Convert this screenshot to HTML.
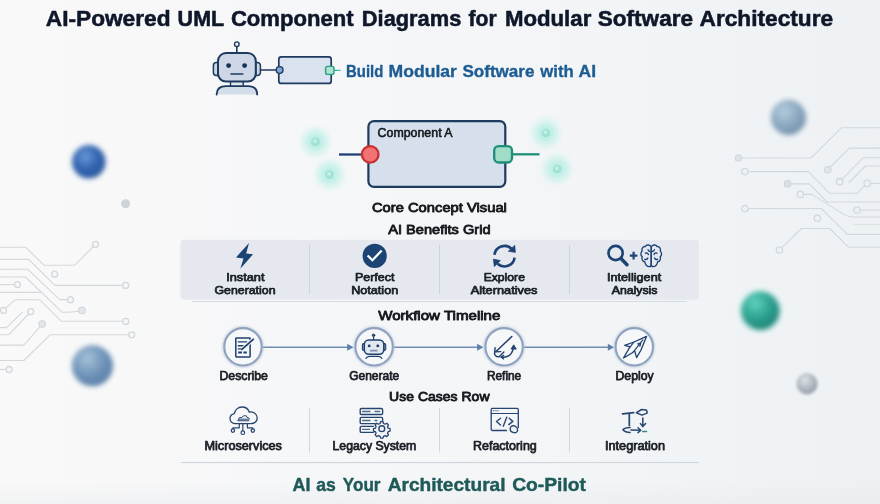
<!DOCTYPE html>
<html><head><meta charset="utf-8"><title>AI-Powered UML Component Diagrams</title>
<style>
html,body{margin:0;padding:0;}
body{width:880px;height:504px;overflow:hidden;background:#f3f5f7;font-family:"Liberation Sans",sans-serif;}
svg{display:block;position:absolute;left:0;top:0;will-change:transform;}
text{font-family:"Liberation Sans",sans-serif;font-weight:bold;}
.sb{font-weight:normal;stroke-linejoin:round;}
.h{font-size:13.300px;fill:#15181d;stroke:#15181d;stroke-width:0.850px;}
.l{font-size:11.500px;fill:#1b1f26;stroke:#1b1f26;stroke-width:0.75px;}
.u{font-size:12px;fill:#1b1f26;stroke:#1b1f26;stroke-width:0.75px;}
</style></head><body>
<svg width="880" height="504" viewBox="0 0 880 504">
<defs>
<linearGradient id="bg" x1="0" y1="0" x2="1" y2="0"><stop offset="0" stop-color="#f9f9f9"/><stop offset="0.45" stop-color="#f5f6f8"/><stop offset="0.78" stop-color="#f1f4f6"/><stop offset="1" stop-color="#edf1f4"/></linearGradient>
<linearGradient id="vg" x1="0" y1="0" x2="0" y2="1"><stop offset="0" stop-color="#dfe3e6" stop-opacity="0"/><stop offset="1" stop-color="#dfe3e6" stop-opacity="0.280"/></linearGradient>
<radialGradient id="sBlue" cx="0.4" cy="0.35" r="0.65"><stop offset="0" stop-color="#6a9ad9"/><stop offset="0.55" stop-color="#3366b0"/><stop offset="1" stop-color="#29579f"/></radialGradient>
<radialGradient id="sBlue2" cx="0.38" cy="0.33" r="0.7"><stop offset="0" stop-color="#a6c2d9"/><stop offset="0.55" stop-color="#7296ba"/><stop offset="1" stop-color="#577da6"/></radialGradient>
<radialGradient id="sGray" cx="0.38" cy="0.33" r="0.7"><stop offset="0" stop-color="#b5ccdc"/><stop offset="0.55" stop-color="#8eaac2"/><stop offset="1" stop-color="#7391ab"/></radialGradient>
<radialGradient id="sTeal" cx="0.36" cy="0.3" r="0.78"><stop offset="0" stop-color="#63d3bd"/><stop offset="0.45" stop-color="#31a896"/><stop offset="1" stop-color="#1d7d71"/></radialGradient>
<radialGradient id="sSm" cx="0.4" cy="0.32" r="0.72"><stop offset="0" stop-color="#dfe3e7"/><stop offset="0.5" stop-color="#b6bdc5"/><stop offset="1" stop-color="#939ea9"/></radialGradient>
<radialGradient id="glow"><stop offset="0" stop-color="#b6ede3" stop-opacity="1"/><stop offset="0.35" stop-color="#bdefe6" stop-opacity="0.9"/><stop offset="0.65" stop-color="#c7f1ea" stop-opacity="0.5"/><stop offset="0.85" stop-color="#d1f4ee" stop-opacity="0.18"/><stop offset="1" stop-color="#d8f5f0" stop-opacity="0"/></radialGradient>
<radialGradient id="gdot" cx="0.45" cy="0.42"><stop offset="0" stop-color="#d6f6ef"/><stop offset="0.5" stop-color="#abe7da"/><stop offset="0.9" stop-color="#98dfd0"/><stop offset="1" stop-color="#a1e2d4"/></radialGradient>
<filter id="b2" x="-30%" y="-30%" width="160%" height="160%"><feGaussianBlur stdDeviation="1.800"/></filter>
<filter id="b3" x="-30%" y="-30%" width="160%" height="160%"><feGaussianBlur stdDeviation="2.400"/></filter>
<filter id="b0" x="-5%" y="-5%" width="110%" height="110%"><feGaussianBlur stdDeviation="0.35"/></filter>
<filter id="b0c" x="-10%" y="-10%" width="120%" height="120%"><feGaussianBlur stdDeviation="0.400"/></filter>
<filter id="b05" x="-30%" y="-30%" width="160%" height="160%"><feGaussianBlur stdDeviation="0.600"/></filter>
<filter id="b1" x="-30%" y="-30%" width="160%" height="160%"><feGaussianBlur stdDeviation="0.8"/></filter>
</defs>
<rect width="880" height="504" fill="url(#bg)"/>
<rect x="0" y="480" width="880" height="24" fill="url(#vg)"/>

<!-- circuit traces -->
<g id="traces" fill="none" stroke="#d3d8dd" stroke-width="1.100" stroke-linejoin="round" filter="url(#b0)">
<path d="M0 247.200H25.500L44.200 265.300H74.500L93.300 246.500"/>
<path d="M0 259.400H28.600L54.900 285.400H122.500"/>
<path d="M0 269.300H27.800L59.700 299.600H67.400"/>
<path d="M0 277H25.500L62 312.200Q70 312.400 78.800 311.200"/>
<path d="M0 284.600H14.400"/>
<path d="M0 292.400H41"/>
<path d="M5.700 308.200L15.100 299.800H39.800L61.200 321.200H122.500"/>
<path d="M0 327.600H6.400L23 311.700"/>
<path d="M0 334.800H8.700L28.600 314"/>
<path d="M0 345.100H23.900L40.200 326.500"/>
<path d="M0 360.500H23.900L50.100 334.800H128.500"/>
<path d="M0 369.500H6"/>
<path d="M741.700 158H811L841.600 127.700H880"/>
<path d="M748 171.600H808.400L829.700 193.300H857L865 185.600M870.400 183.400H880"/>
<path d="M790.800 183.900H809.300L827 202H880"/>
<path d="M803.600 194.400H811.800L839 211.400Q846 216.500 852 217H880"/>
<path d="M748.200 208.500H821.200L847.600 234.400H880"/>
<path d="M860.200 210H880"/>
<path d="M829.900 167.500L849.300 148.100H880"/>
<path d="M841.800 179.400L863 157.800H880"/>
<path d="M848.500 183L865.500 166H880"/>
<path d="M781.600 247.800L801.600 228.500H829.700L848.500 247.200H880"/>
<path d="M853.600 224.500H880" stroke-opacity="0.600"/>
<g fill="#f6f7f8" stroke-width="1.300">
<circle cx="95.500" cy="244.300" r="3"/><circle cx="125.700" cy="285.400" r="3"/><circle cx="54.600" cy="274.200" r="3"/><circle cx="70.500" cy="299.700" r="3"/>
<circle cx="17.500" cy="284.600" r="3"/><circle cx="82" cy="310.400" r="3.200" fill="#e3e7ec"/><circle cx="3.500" cy="310.400" r="3"/><circle cx="125.700" cy="321.400" r="3"/>
<circle cx="30.700" cy="311.700" r="3"/><circle cx="42.200" cy="324.100" r="3.200" fill="#e3e7ec"/><circle cx="131.700" cy="334.800" r="3"/><circle cx="9.100" cy="369.500" r="3"/>
<circle cx="738.500" cy="158" r="3.200" fill="#dfe4ea"/><circle cx="744.800" cy="171.600" r="3.200" fill="#eef1f3"/><circle cx="867.200" cy="183.400" r="3.200" fill="#eef1f3"/><circle cx="787.600" cy="183.900" r="3.200" fill="#dadfe6"/>
<circle cx="800.400" cy="194.400" r="3.200" fill="#eef1f3"/><circle cx="827.700" cy="169.800" r="3.200" fill="#e3e7ec"/><circle cx="839.600" cy="181.700" r="3.200" fill="#eef1f3"/><circle cx="745" cy="208.500" r="3.200" fill="#eef1f3"/>
<circle cx="857" cy="210" r="3.200" fill="#eef1f3"/><circle cx="817.400" cy="218.200" r="3.200" fill="#eef1f3"/><circle cx="779.400" cy="250.100" r="3.200" fill="#eef1f3"/>
</g>
</g>

<!-- spheres -->
<circle cx="88.800" cy="161.800" r="16.800" fill="url(#sBlue)" filter="url(#b3)"/>
<circle cx="125.600" cy="203.800" r="4.500" fill="#ced4dc" filter="url(#b05)"/>
<circle cx="92.400" cy="365.700" r="20.600" fill="url(#sBlue2)" filter="url(#b3)"/>
<circle cx="788.400" cy="117.400" r="17.600" fill="url(#sGray)" filter="url(#b3)"/>
<circle cx="760.400" cy="310.800" r="21" fill="#6fd0bd" opacity="0.350" filter="url(#b3)"/>
<circle cx="760.400" cy="310.800" r="18.800" fill="url(#sTeal)" filter="url(#b3)"/>
<circle cx="807" cy="383.800" r="10.600" fill="url(#sSm)" filter="url(#b2)"/>
<!-- header robot + component -->
<g id="hero" stroke="#1e3a5f" stroke-linecap="round" stroke-linejoin="round">
<line x1="236.8" y1="46.8" x2="236.8" y2="53" stroke-width="1.6"/>
<circle cx="236.8" cy="44.2" r="2.3" fill="#f4f6f9" stroke-width="1.4"/>
<path d="M218 62.5h-1.6a3 3 0 0 0-3 3v7a3 3 0 0 0 3 3h1.6z" fill="#cdd7e6" stroke-width="1.5"/>
<path d="M255.8 62.5h1.6a3 3 0 0 1 3 3v7a3 3 0 0 1-3 3h-1.6z" fill="#cdd7e6" stroke-width="1.5"/>
<rect x="230.5" y="81" width="12.7" height="6" fill="#e1e7ef" stroke-width="1.4"/>
<path d="M216.6 94.6q0-8.4 9.5-8.4h21.6q9.5 0 9.5 8.4" fill="#d3dce9" stroke-width="1.8"/>
<rect x="218" y="53" width="37.8" height="28.6" rx="8" fill="#cdd7e6" stroke-width="2"/>
<circle cx="228.6" cy="65.6" r="2.4" fill="#16305a" stroke="none"/>
<circle cx="244.6" cy="65.6" r="2.4" fill="#16305a" stroke="none"/>
<line x1="231" y1="74" x2="242.8" y2="74" stroke-width="1.6"/>
<line x1="260.5" y1="70" x2="276" y2="70" stroke-width="1.5"/>
<line x1="334" y1="70.4" x2="340" y2="70.4" stroke="#3dbd9d" stroke-width="1.3"/>
<rect x="278.8" y="56.8" width="52.4" height="26.6" rx="2.5" fill="#d9e2ee" stroke-width="1.7"/>
<circle cx="279.6" cy="70" r="3.4" fill="#7fa6d9" stroke-width="1.4"/>
<rect x="325.6" y="66.4" width="8.4" height="8" rx="2" fill="#aee3d0" stroke="#2a9d80" stroke-width="1.4"/>
</g>
<!-- title -->
<g id="title" stroke="#0f172a" stroke-width="0.550" stroke-linejoin="round">
<text x="45.8" y="26" font-size="22.4" fill="#0f172a" textLength="124.7" lengthAdjust="spacingAndGlyphs">AI-Powered</text>
<text x="177.6" y="26" font-size="22.4" fill="#0f172a" textLength="46.6" lengthAdjust="spacingAndGlyphs">UML</text>
<text x="230.9" y="26" font-size="22.4" fill="#0f172a" textLength="122.7" lengthAdjust="spacingAndGlyphs">Component</text>
<text x="361.8" y="26" font-size="22.4" fill="#0f172a" textLength="99.5" lengthAdjust="spacingAndGlyphs">Diagrams</text>
<text x="468.5" y="26" font-size="22.4" fill="#0f172a" textLength="28.2" lengthAdjust="spacingAndGlyphs">for</text>
<text x="504.9" y="26" font-size="22.4" fill="#0f172a" textLength="86.4" lengthAdjust="spacingAndGlyphs">Modular</text>
<text x="597.8" y="26" font-size="22.4" fill="#0f172a" textLength="95.2" lengthAdjust="spacingAndGlyphs">Software</text>
<text x="699.5" y="26" font-size="22.4" fill="#0f172a" textLength="133.6" lengthAdjust="spacingAndGlyphs">Architecture</text>
</g>
<g id="subtitle" stroke="#1d5c93" stroke-width="0.350" stroke-linejoin="round">
<text x="346" y="76.6" font-size="17.4" fill="#1d5c93" textLength="37.3" lengthAdjust="spacingAndGlyphs">Build</text>
<text x="388.5" y="76.6" font-size="17.4" fill="#1d5c93" textLength="68.4" lengthAdjust="spacingAndGlyphs">Modular</text>
<text x="462.4" y="76.6" font-size="17.4" fill="#1d5c93" textLength="72.1" lengthAdjust="spacingAndGlyphs">Software</text>
<text x="540.3" y="76.6" font-size="17.4" fill="#1d5c93" textLength="33.4" lengthAdjust="spacingAndGlyphs">with</text>
<text x="578.5" y="76.6" font-size="17.4" fill="#1d5c93" textLength="17.5" lengthAdjust="spacingAndGlyphs">AI</text>
</g>

<!-- core component -->
<g id="core">
<circle cx="315.500" cy="141.900" r="19" fill="url(#glow)"/>
<circle cx="329.500" cy="174.600" r="19" fill="url(#glow)"/>
<circle cx="545.800" cy="133" r="19" fill="url(#glow)"/>
<circle cx="557.200" cy="169" r="19" fill="url(#glow)"/>
<circle cx="315.500" cy="141.900" r="4.300" fill="url(#gdot)"/>
<circle cx="329.500" cy="174.600" r="4.300" fill="url(#gdot)"/>
<circle cx="545.800" cy="133" r="4.300" fill="url(#gdot)"/>
<circle cx="557.200" cy="169" r="4.300" fill="url(#gdot)"/>
<line x1="339" y1="154.500" x2="362" y2="154.500" stroke="#1e3f73" stroke-width="2.300"/>
<line x1="512" y1="154.300" x2="539.500" y2="154.300" stroke="#1f8f78" stroke-width="2.300"/>
<rect x="368.4" y="121.2" width="136.9" height="65.6" rx="5.5" fill="#d6dfec" stroke="#1e3a5f" stroke-width="2.2"/>
<circle cx="370.2" cy="154.4" r="8.3" fill="#f07474" stroke="#cc2f2f" stroke-width="2.3"/>
<rect x="494.2" y="146.100" width="17.800" height="16.400" rx="4.500" fill="#a0ddc9" stroke="#1f8f78" stroke-width="2.300"/>
</g>
<text class="sb" x="377.6" y="137.4" font-size="12" fill="#14171c" stroke="#14171c" stroke-width="0.550" textLength="75" lengthAdjust="spacingAndGlyphs">Component A</text>

<text class="sb h" x="439.4" y="211.600" text-anchor="middle" textLength="135" lengthAdjust="spacingAndGlyphs">Core Concept Visual</text>
<text class="sb h" x="439.4" y="233.800" text-anchor="middle" textLength="102.3" lengthAdjust="spacingAndGlyphs">AI Benefits Grid</text>

<!-- benefits grid -->
<rect x="180.400" y="239.800" width="518.600" height="60" rx="4" fill="#e5e9ef"/>
<g stroke="#cdd3db" stroke-width="1">
<line x1="309.5" y1="245" x2="309.5" y2="294"/>
<line x1="439.5" y1="245" x2="439.5" y2="294"/>
<line x1="569.5" y1="245" x2="569.5" y2="294"/>
<line x1="192" y1="301.5" x2="687" y2="301.5" stroke="#d5dae1"/>
</g>
<g id="gicons">
<path d="M249 242.900L236 257.400l7.500 1.200-3.200 10.200 12.800-14.500-6.900-0.700z" fill="#1b4373"/>
<circle cx="374.700" cy="255.900" r="12.100" fill="#1b4474"/>
<path d="M368.400 256.300L372.400 260.200L380.900 251.400" fill="none" stroke="#fdfdfe" stroke-width="2.300" stroke-linecap="square" stroke-linejoin="miter"/>
<g fill="none" stroke="#1b4373" stroke-width="2.700">
<path d="M494.400 254.800A10.200 10.200 0 0 1 511.460 248.740"/>
<path d="M514.600 257.600A10.200 10.200 0 0 1 497.540 263.660"/>
</g>
<path d="M514.800 245.200L515.400 252.400L508.200 251.300z" fill="#1b4373" stroke="#1b4373" stroke-width="0.600" stroke-linejoin="round"/>
<path d="M493.300 259.100L500.400 260.600L494.300 266.700z" fill="#1b4373" stroke="#1b4373" stroke-width="0.600" stroke-linejoin="round"/>
<circle cx="615.600" cy="253" r="7.100" fill="none" stroke="#1b4373" stroke-width="2.600"/>
<line x1="621.200" y1="258.800" x2="627" y2="264.700" stroke="#1b4373" stroke-width="3.500" stroke-linecap="round"/>
<path d="M629.800 255.600h7.600M633.600 251.800v7.600" stroke="#1b4373" stroke-width="2.200" fill="none"/>
<g fill="none" stroke="#1b4373" stroke-width="1.3" stroke-linecap="round" stroke-linejoin="round" transform="translate(0 -24.450) scale(1 1.100)">
<path d="M651.2 246.8c-1-2-4.600-2.600-6 -0.400c-2.400-0.200-3.800 2-3 4c-1.800 1.400-1.800 4 0 5.200c-0.800 2.200 0.400 4.400 2.600 4.600c0.200 2.400 2.200 4.400 4.400 4.400c1.200 0 2-0.800 2-2z"/>
<path d="M651.2 246.800c1-2 4.600-2.600 6-0.400c2.400-0.200 3.800 2 3 4c1.800 1.400 1.800 4 0 5.200c0.800 2.200-0.400 4.400-2.600 4.600c-0.200 2.400-2.200 4.400-4.400 4.400c-1.200 0-2-0.800-2-2z"/>
<path d="M645.400 252.400c1.400-0.600 2.600 0 3 1.200M644.800 258c1.200 0.400 2.400-0.200 3-1.200M657 252.400c-1.400-0.600-2.600 0-3 1.200M657.600 258c-1.200 0.400-2.400-0.200-3-1.200M648 249.200c0.200 1 1 1.600 2 1.600M654.400 249.200c-0.200 1-1 1.600-2 1.600"/>
</g>
</g>
<g id="glabels">
<text class="sb l" x="245.3" y="281.200" text-anchor="middle" textLength="38.3" lengthAdjust="spacingAndGlyphs">Instant</text>
<text class="sb l" x="245" y="294.2" text-anchor="middle" textLength="61" lengthAdjust="spacingAndGlyphs">Generation</text>
<text class="sb l" x="374.7" y="281.200" text-anchor="middle" textLength="39.5" lengthAdjust="spacingAndGlyphs">Perfect</text>
<text class="sb l" x="374.7" y="294.2" text-anchor="middle" textLength="47" lengthAdjust="spacingAndGlyphs">Notation</text>
<text class="sb l" x="504.3" y="281.200" text-anchor="middle" textLength="41.3" lengthAdjust="spacingAndGlyphs">Explore</text>
<text class="sb l" x="504.1" y="294.2" text-anchor="middle" textLength="66.8" lengthAdjust="spacingAndGlyphs">Alternatives</text>
<text class="sb l" x="634.1" y="281.200" text-anchor="middle" textLength="54.2" lengthAdjust="spacingAndGlyphs">Intelligent</text>
<text class="sb l" x="634.6" y="294.2" text-anchor="middle" textLength="45.8" lengthAdjust="spacingAndGlyphs">Analysis</text>
</g>

<text class="sb h" x="439.3" y="320.3" text-anchor="middle" textLength="122.2" lengthAdjust="spacingAndGlyphs">Workflow Timeline</text>

<!-- workflow -->
<g id="flow">
<g stroke="#6f8db3" stroke-width="1.4" fill="none">
<line x1="262" y1="347.200" x2="349" y2="347.200"/>
<line x1="394" y1="347.200" x2="479" y2="347.200"/>
<line x1="524" y1="347.200" x2="609" y2="347.200"/>
</g>
<g fill="#5f80aa">
<path d="M353.600 347.200l-6.400-3.500v7z"/><path d="M483.500 347.200l-6.400-3.500v7z"/><path d="M614.200 347.200l-6.400-3.500v7z"/>
</g>
<g fill="none" stroke="#b9c6d8" stroke-width="3.600" filter="url(#b1)" opacity="0.700">
<circle cx="243" cy="346.800" r="18.900"/><circle cx="374.100" cy="346.800" r="18.900"/><circle cx="504.100" cy="346.800" r="18.900"/><circle cx="634.300" cy="346.800" r="18.900"/>
</g>
<g fill="#f6f7f9" stroke="#8fa3bf" stroke-width="2.100" filter="url(#b0c)">
<circle cx="243" cy="346.800" r="18.700"/><circle cx="374.100" cy="346.800" r="18.700"/><circle cx="504.100" cy="346.800" r="18.700"/><circle cx="634.300" cy="346.800" r="18.700"/>
</g>
</g>
<g id="ficons" fill="none" stroke="#1e3f6e" stroke-width="1.4" stroke-linecap="round" stroke-linejoin="round">
<!-- doc + pen -->
<rect x="235.800" y="337.900" width="14.300" height="19" rx="0.600" stroke-width="1.500"/>
<path d="M238.300 341.900h8.300M238.300 345.700h6M238.300 348.900h3" stroke-width="1.400"/>
<path d="M238.200 352.500h3.800M243.400 352.500h3.400" stroke-width="1.800" stroke-linecap="butt"/>
<path d="M253.200 339.300L241.900 349.400" stroke="#f6f7f9" stroke-width="3.600" stroke-linecap="butt"/>
<path d="M253.200 339.300L241.900 349.400" stroke-width="1.800"/>
<!-- robot small -->
<circle cx="373.500" cy="335.300" r="1.300" fill="#3a5580" stroke-width="0.900"/>
<line x1="373.600" y1="336.800" x2="373.600" y2="339.800" stroke-width="1.200"/>
<path d="M364.300 343.600h-0.700a1.200 1.200 0 0 0-1.200 1.200v4.400a1.200 1.200 0 0 0 1.200 1.200h0.700zM383.800 343.600h0.700a1.200 1.200 0 0 1 1.200 1.200v4.400a1.200 1.200 0 0 1-1.200 1.200h-0.700z" fill="#cfd9e6" stroke-width="1.100"/>
<rect x="364.300" y="339.900" width="19.500" height="14.300" rx="4.400" fill="#e2e8f0" stroke-width="1.500"/>
<circle cx="369.200" cy="345.900" r="1.450" fill="#1e3f6e" stroke="none"/>
<circle cx="377.800" cy="345.900" r="1.450" fill="#1e3f6e" stroke="none"/>
<line x1="370.800" y1="350.700" x2="376.800" y2="350.700" stroke="#7e90ad" stroke-width="1.700"/>
<path d="M365.900 358.500q0.800-2.200 3.600-2.200h8.800q2.800 0 3.600 2.200" stroke-width="1.200"/>
<!-- refine -->
<path d="M511.800 336.500L496 351.500" stroke-width="1.500"/>
<path d="M495.100 347.600l-0.600 6.700q1.400 3 4.600 2.400l4.800-4.600" stroke-width="1.400"/>
<path d="M495.400 351.800l5.400-0.200" stroke-width="1.200"/>
<path d="M501.300 357c5.600 1 10.800-1.600 12-9" stroke-width="1.500"/>
<path d="M513.500 345.200l-2.400 3.800h4.800z" fill="#1e3f6e" stroke-width="1"/>
<path d="M503.600 355.400l-2.500 1.600 2.500 1.900" stroke-width="1.300"/>
<!-- rocket -->
<path d="M646.500 336.400L634 342l-9.300 3.300 5.300 1.500-6.500 11.200 8.500-5 2.600-2.200 2 6.800 4.400-7.600z" stroke-width="1.300"/>
<path d="M642.800 339.800l-8.400 10.800M633.800 342.200l-3.600 4.600" stroke-width="1.100"/>
<path d="M638 343.600l3-0.800-1 3.400z" stroke-width="1"/>
</g>
<g id="flabels">
<text class="sb u" x="243.7" y="380.2" text-anchor="middle" textLength="48.5" lengthAdjust="spacingAndGlyphs">Describe</text>
<text class="sb u" x="374.2" y="380.2" text-anchor="middle" textLength="50" lengthAdjust="spacingAndGlyphs">Generate</text>
<text class="sb u" x="504.1" y="380.2" text-anchor="middle" textLength="34.2" lengthAdjust="spacingAndGlyphs">Refine</text>
<text class="sb u" x="634.6" y="380.2" text-anchor="middle" textLength="38.2" lengthAdjust="spacingAndGlyphs">Deploy</text>
</g>

<text class="sb h" x="439.3" y="400.9" text-anchor="middle" textLength="100.4" lengthAdjust="spacingAndGlyphs">Use Cases Row</text>

<!-- use cases -->
<g stroke="#d3d8df" stroke-width="1">
<line x1="309.5" y1="408" x2="309.5" y2="452.5"/>
<line x1="439.5" y1="408" x2="439.5" y2="452.5"/>
<line x1="569.5" y1="408" x2="569.5" y2="452.5"/>
<line x1="181" y1="462.600" x2="699" y2="462.600" stroke="#cad2da"/>
</g>
<g id="uicons" fill="none" stroke="#27466f" stroke-width="1.300" stroke-linecap="round" stroke-linejoin="round">
<!-- cloud -->
<path d="M235.800 423.700c-3.400 0-5.800-2.200-5.800-5.100c0-2.600 1.800-4.600 4.400-5c0.600-3.800 3.600-6.600 7.600-6.600c3.400 0 6.200 2 7.200 5c0.400-0.100 0.900-0.100 1.400-0.100c3.600 0 6.600 2.600 6.600 6c0 3.300-2.600 5.800-6.200 5.800z"/>
<path d="M238 420.400l1.400-2.800h2.600l1.400-1.800h3l0.400 1.400 2.400 1 -0.400 2.200z M239.400 419.200h8.400" stroke-width="1"/>
<path d="M242.800 423.900v6.600M239.300 423.900v3.900h-6.400v1M247.400 423.900v3.900h5.400v1" stroke-width="1.200"/>
<circle cx="232.900" cy="430.600" r="1.700" stroke-width="1.200"/>
<circle cx="242.800" cy="432.700" r="1.800" stroke-width="1.200"/>
<circle cx="252.800" cy="430.600" r="1.700" stroke-width="1.200"/>
<!-- server + gear -->
<rect x="360.200" y="408.500" width="22.400" height="6" rx="1.200" stroke-width="1.400"/>
<rect x="360.200" y="417.400" width="22.400" height="6.200" rx="1.200" stroke-width="1.400"/>
<path d="M373.600 432.400h-12.200a1.200 1.200 0 0 1-1.200-1.200v-3.600a1.200 1.200 0 0 1 1.200-1.200h12" stroke-width="1.400"/>
<path d="M362.600 411.500h7.400M375 411.500h5M362.600 420.500h7.400M375 420.500h2.400M362.600 429.400h6.800" stroke-width="1.300" stroke-dasharray="2 0.700" stroke-opacity="0.800"/>
<circle cx="381.800" cy="428.600" r="7.600" fill="#f1f3f6" stroke="none"/>
<path transform="translate(0.100 0.400)" d="M380.500 421.200h2.400l0.500 1.900 1.600 0.700 1.700-1 1.700 1.700-1 1.700 0.700 1.600 1.900 0.500v2.400l-1.900 0.500-0.700 1.600 1 1.700-1.700 1.700-1.700-1-1.600 0.700-0.500 1.900h-2.400l-0.500-1.900-1.600-0.700-1.700 1-1.700-1.700 1-1.700-0.700-1.600-1.900-0.500v-2.400l1.900-0.500 0.700-1.600-1-1.700 1.700-1.700 1.700 1 1.600-0.700z" stroke-width="1.300"/>
<circle cx="381.800" cy="428.700" r="2.900" stroke-width="1.400"/>
<!-- code window -->
<path d="M506.500 430.500h-14.100a1.200 1.200 0 0 1-1.200-1.200v-19.700a1.200 1.200 0 0 1 1.200-1.200h24.700a1.200 1.200 0 0 1 1.200 1.200v17.800"/>
<path d="M491.200 413.500h27.100" stroke-width="1.200"/>
<path d="M492.800 410.800h6" stroke-width="1.100" stroke-dasharray="1 0.800" stroke-linecap="butt"/>
<path d="M500.500 418.300l-4 3.200 4 3.500M506.800 417.100l-3.500 9.100M509.200 418.300l3.600 3.100-4 3.200" stroke-width="1.400"/>
<path d="M510.200 428.600c0.200-2 1.800-3.200 3.600-2.800c2.200 0.400 4 2.400 3.800 4.400c-0.200 1.800-1.800 2.800-3.600 2.400c-2.200-0.400-4-2-3.800-4z" fill="#f1f3f6" stroke-width="1.400"/>
<!-- integration -->
<path d="M622.500 413.800l11.200-1.100M629.300 413.400v12" stroke-width="1.700"/>
<path d="M636.400 412.700l5.200-3.200 4.400 0.400q1.600 1.400 1.100 3.200l-5.100 2z" stroke-width="1.500"/>
<path d="M642.800 417.900v8M640.400 423.600l2.400 3 2.800-3" stroke-width="1.500"/>
<path d="M630.100 427.400q-5.400 0-7.200 2.400q2.200 2.600 7.200 2.800M630.900 429.900l9.500 0.300M638 427.800l2.800 2.400-2.800 2.400" stroke-width="1.500"/>
<path d="M642.600 431.500h4" stroke="#3a8a8c" stroke-width="1.400"/>
</g>
<g id="ulabels">
<text class="sb u" x="243.2" y="449.7" text-anchor="middle" textLength="77.5" lengthAdjust="spacingAndGlyphs">Microservices</text>
<text class="sb u" x="374.4" y="449.7" text-anchor="middle" textLength="83.7" lengthAdjust="spacingAndGlyphs">Legacy System</text>
<text class="sb u" x="504.9" y="449.7" text-anchor="middle" textLength="63.7" lengthAdjust="spacingAndGlyphs">Refactoring</text>
<text class="sb u" x="635" y="449.7" text-anchor="middle" textLength="60" lengthAdjust="spacingAndGlyphs">Integration</text>
</g>

<g id="footer" stroke="#1f5a58" stroke-width="0.450" stroke-linejoin="round">
<text x="292.6" y="490.9" font-size="19" fill="#1f5a58" textLength="17.9" lengthAdjust="spacingAndGlyphs">AI</text>
<text x="316.3" y="490.9" font-size="19" fill="#1f5a58" textLength="19.6" lengthAdjust="spacingAndGlyphs">as</text>
<text x="342.8" y="490.9" font-size="19" fill="#1f5a58" textLength="37.7" lengthAdjust="spacingAndGlyphs">Your</text>
<text x="387.7" y="490.9" font-size="19" fill="#1f5a58" textLength="117.8" lengthAdjust="spacingAndGlyphs">Architectural</text>
<text x="512.2" y="490.9" font-size="19" fill="#1f5a58" textLength="73.8" lengthAdjust="spacingAndGlyphs">Co-Pilot</text>
</g>
</svg>
</body></html>
